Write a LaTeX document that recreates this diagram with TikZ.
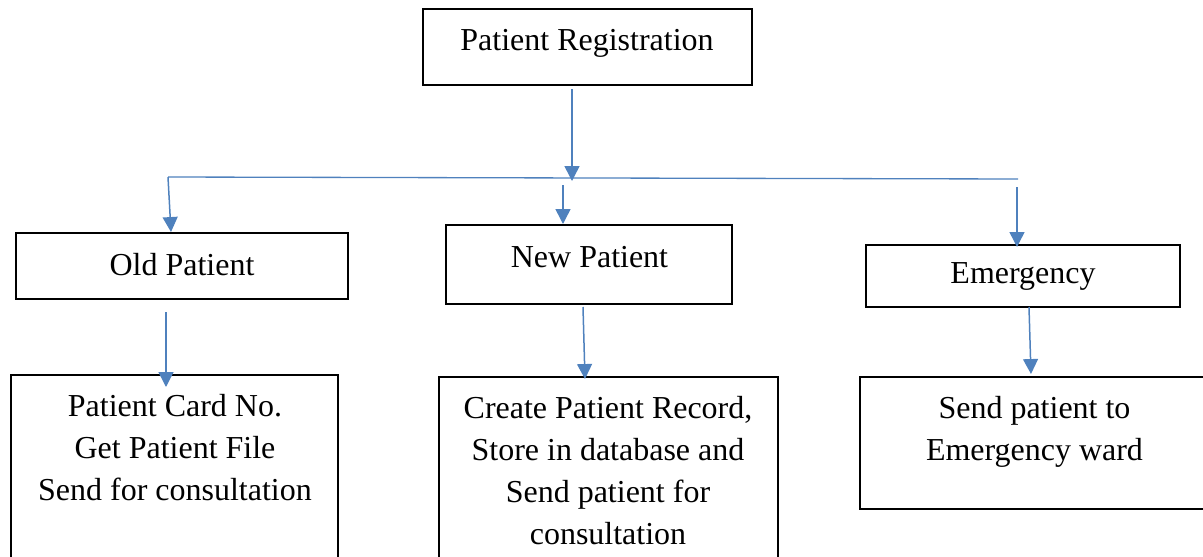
\documentclass[tikz,border=0pt]{standalone}
\usepackage{fontspec}
\setmainfont{Liberation Serif}
\usetikzlibrary{positioning,arrows.meta}
\definecolor{flowblue}{RGB}{79,129,189}
\tikzset{
  box/.style={draw=black, line width=0.8pt, inner sep=0pt},
  txt/.style={align=center, font=\fontsize{18.2}{23.9}\selectfont},
  arr/.style={draw=flowblue, line width=0.85pt, -{Triangle[width=8.5pt,length=8.5pt]}},
  bus/.style={draw=flowblue, line width=0.75pt}
}

\begin{document}
\begin{tikzpicture}
\useasboundingbox (0,0) rectangle (24.06,-11.14);
% boxes
\node[box, minimum width=6.58cm, minimum height=1.52cm] (reg) at (11.75,-0.94) {};
\node[box, minimum width=6.64cm, minimum height=1.32cm] (old) at (3.64,-5.32) {};
\node[box, minimum width=5.72cm, minimum height=1.58cm] (new) at (11.78,-5.29) {};
\node[box, minimum width=6.28cm, minimum height=1.24cm] (emg) at (20.46,-5.52) {};
\node[box, minimum width=6.54cm, minimum height=4.5cm] (oldB) at (3.49,-9.75) {};
\node[box, minimum width=6.78cm, minimum height=4.46cm] (newB) at (12.17,-9.77) {};
\node[box, minimum width=7.0cm, minimum height=2.64cm] (emgB) at (20.70,-8.86) {};
% texts
\node[txt] (regT) at (11.74,-0.86) {Patient Registration};
\node[txt] (oldT) at (3.64,-5.30) {Old Patient};
\node[txt] (newT) at (11.79,-5.15) {New Patient};
\node[txt] (emgT) at (20.46,-5.52) {Emergency};
\node[txt] (oldBT) at (3.50,-8.95) {Patient Card No.\\Get Patient File\\Send for consultation};
\node[txt] (newBT) at (12.16,-9.41) {Create Patient Record,\\Store in database and\\Send patient for\\consultation};
\node[txt] (emgBT) at (20.69,-8.64) {Send patient to\\Emergency ward};
% connector points
\coordinate (regOut) at (11.44,-1.78);
\coordinate (busIn) at (11.44,-3.62);
\coordinate (busL) at (3.36,-3.54);
\coordinate (busR) at (20.36,-3.58);
\coordinate (oldIn) at (3.42,-4.64);
\coordinate (newTop) at (11.26,-3.70);
\coordinate (newIn) at (11.26,-4.48);
\coordinate (emgTop) at (20.34,-3.74);
\coordinate (emgIn) at (20.34,-4.94);
\coordinate (oldOut) at (3.32,-6.24);
\coordinate (oldBIn) at (3.32,-7.74);
\coordinate (newOut) at (11.66,-6.14);
\coordinate (newBIn) at (11.70,-7.58);
\coordinate (emgOut) at (20.58,-6.14);
\coordinate (emgBIn) at (20.62,-7.48);
% connectors
\draw[bus] (busL) -- (busR);
\draw[arr] (regOut) -- (busIn);
\draw[arr] (busL) -- (oldIn);
\draw[arr] (newTop) -- (newIn);
\draw[arr] (emgTop) -- (emgIn);
\draw[arr] (oldOut) -- (oldBIn);
\draw[arr] (newOut) -- (newBIn);
\draw[arr] (emgOut) -- (emgBIn);
\end{tikzpicture}
\end{document}
